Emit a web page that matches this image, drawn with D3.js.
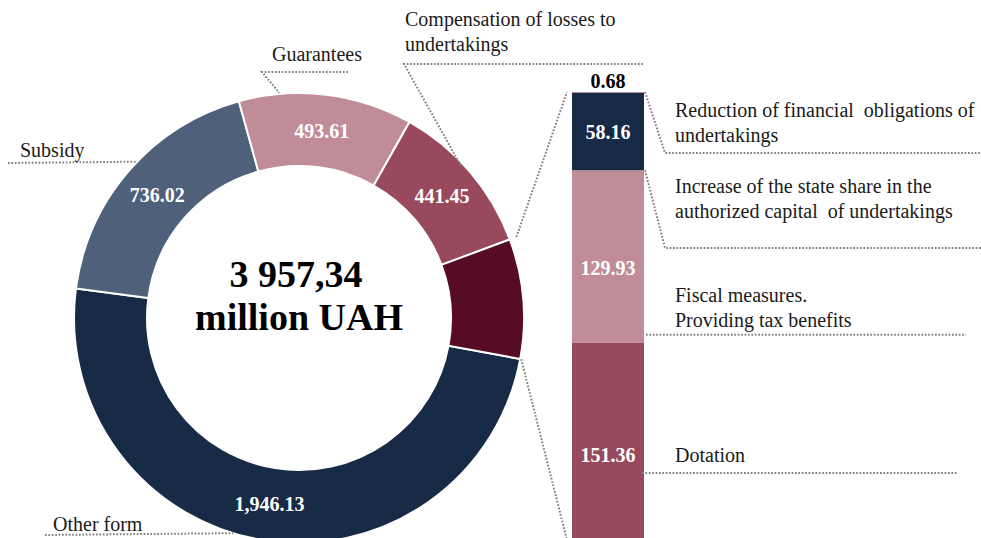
<!DOCTYPE html>
<html>
<head>
<meta charset="utf-8">
<script src="https://cdn.jsdelivr.net/npm/d3@7"></script>
<style>
  body { margin: 0; background: #fff; }
  svg text { font-family: "Liberation Serif", "Times New Roman", serif; }
</style>
</head>
<body>
<div id="chart"></div>
<script>
// donut data (clockwise, starting with "Other form")
const forms = ["Other form", "Subsidy", "Guarantees", "Compensation of losses to undertakings", "Other measures"];
const formValues = [1946.13, 736.02, 493.61, 441.45, 340.13];
const formColors = ["#172a46", "#4f607a", "#c08c98", "#984a5c", "#560b26"];
const formLabels = ["1,946.13", "736.02", "493.61", "441.45", ""];

// breakdown of the exploded segment (bottom to top)
const measures = ["Dotation", "Fiscal measures", "Increase of the state share", "Reduction of financial obligations"];
const measureValues = [151.36, 129.93, 58.16, 0.68];
const measureColors = ["#984a5c", "#c08c98", "#172a46", "#c08c98"];

const totalText = ["3 957,34", "million UAH"];

const width = 981, height = 538;
const cx = 299, cy = 318, rOuter = 225, rInner = 152;
const startDeg = 100.5;

const svg = d3.select("#chart").append("svg")
    .attr("width", width)
    .attr("height", height);

const rad = d => d * Math.PI / 180;
const polar = (deg, r) => [cx + r * Math.sin(rad(deg)), cy - r * Math.cos(rad(deg))];

const pie = d3.pie().sort(null)
    .startAngle(rad(startDeg))
    .endAngle(rad(startDeg) + 2 * Math.PI);
const arcs = pie(formValues);

const arc = d3.arc().innerRadius(rInner).outerRadius(rOuter);
const labelArc = d3.arc().innerRadius(188).outerRadius(188);

const donut = svg.append("g").attr("transform", `translate(${cx},${cy})`);

donut.selectAll("path")
    .data(arcs)
    .enter().append("path")
    .attr("d", arc)
    .attr("fill", (d, i) => formColors[i])
    .attr("stroke", "#fff")
    .attr("stroke-width", 2);

donut.selectAll("text.val")
    .data(arcs)
    .enter().append("text")
    .attr("class", "val")
    .attr("transform", d => `translate(${labelArc.centroid(d)})`)
    .attr("text-anchor", "middle")
    .attr("dy", "0.35em")
    .style("font-size", "20px")
    .style("font-weight", "bold")
    .style("fill", "#fff")
    .text((d, i) => formLabels[i]);

// total in the middle
svg.append("text")
    .attr("x", cx - 3).attr("y", 287)
    .attr("text-anchor", "middle")
    .style("font-size", "38px").style("font-weight", "bold")
    .text(totalText[0]);
svg.append("text")
    .attr("x", cx).attr("y", 330)
    .attr("text-anchor", "middle")
    .style("font-size", "38px").style("font-weight", "bold")
    .text(totalText[1]);

// stacked bar
const barX = 572, barW = 72;
const yScale = d3.scaleLinear()
    .domain([0, d3.sum(measureValues)])
    .range([544, 92]);

const stackRow = {};
measures.forEach((m, i) => stackRow[m] = measureValues[i]);
const series = d3.stack().keys(measures)([stackRow]);

const bar = svg.append("g");
bar.selectAll("rect")
    .data(series)
    .enter().append("rect")
    .attr("x", barX)
    .attr("width", barW)
    .attr("y", d => yScale(d[0][1]))
    .attr("height", d => Math.max(1, yScale(d[0][0]) - yScale(d[0][1])))
    .attr("fill", (d, i) => measureColors[i]);

const barLabelDy = [12, 11, 0];
bar.selectAll("text.val")
    .data(series.slice(0, 3))
    .enter().append("text")
    .attr("class", "val")
    .attr("x", barX + barW / 2)
    .attr("y", (d, i) => (yScale(d[0][0]) + yScale(d[0][1])) / 2 + barLabelDy[i])
    .attr("dy", "0.35em")
    .attr("text-anchor", "middle")
    .style("font-size", "20px").style("font-weight", "bold")
    .style("fill", "#fff")
    .text(d => d3.format(".2f")(d[0][1] - d[0][0]));

bar.append("text")
    .attr("x", barX + barW / 2)
    .attr("y", yScale(d3.sum(measureValues)) - 4)
    .attr("text-anchor", "middle")
    .style("font-size", "20px").style("font-weight", "bold")
    .text(d3.format(".2f")(measureValues[3]));

// dotted leader lines
const line = d3.line();
function dotted(pts) {
    svg.append("path")
        .attr("d", line(pts))
        .attr("fill", "none")
        .attr("stroke", "#808080")
        .attr("stroke-width", 2)
        .attr("stroke-dasharray", "1.7 1.7");
}

// connectors from the dark segment to the bar
const dark = arcs[4];
const darkStart = dark.startAngle * 180 / Math.PI;
const darkEnd = dark.endAngle * 180 / Math.PI;
dotted([polar(darkStart, 232), [barX - 5, yScale(d3.sum(measureValues))]]);
dotted([polar(darkEnd, 226), [barX - 4, yScale(0)]]);

// donut category labels
const donutNotes = [
    {lines: ["Other form"], x: 53, y: 531, size: 20, path: [[45, 535], polar(197, 225)]},
    {lines: ["Subsidy"], x: 20, y: 157, size: 20, path: [[8, 163], polar(314, 225)]},
    {lines: ["Guarantees"], x: 272, y: 61, size: 20, path: [[348, 72], [262, 72], polar(355, 226)]},
    {lines: ["Compensation of losses to", "undertakings"], x: 405, y: 26, size: 20,
     path: [[643, 64], [404, 64], polar(47, 222)]}
];

donutNotes.forEach(n => {
    dotted(n.path);
    n.lines.forEach((t, k) => {
        svg.append("text")
            .attr("x", n.x).attr("y", n.y + k * 25)
            .style("font-size", n.size + "px")
            .style("fill", "#1a1a1a")
            .text(t);
    });
});

// bar category labels
const barTop = yScale(d3.sum(measureValues));
const b1 = yScale(measureValues[0] + measureValues[1]);
const b0 = yScale(measureValues[0]);
const barNotes = [
    {lines: ["Reduction of financial\u00a0 obligations of", "undertakings"], y: 117,
     path: [[barX + barW + 1, barTop], [665, 153], [981, 153]]},
    {lines: ["Increase of the state share in the", "authorized capital\u00a0 of undertakings"], y: 193,
     path: [[barX + barW + 1, b1], [665, 248], [981, 248]]},
    {lines: ["Fiscal measures.", "Providing tax benefits"], y: 302,
     path: [[barX + barW + 2, b0 - 8], [966, b0 - 8]]},
    {lines: ["Dotation"], y: 462,
     path: [[barX + barW - 2, 473], [958, 473]]}
];

barNotes.forEach(n => {
    dotted(n.path);
    n.lines.forEach((t, k) => {
        svg.append("text")
            .attr("x", 675).attr("y", n.y + k * 25)
            .style("font-size", "20px")
            .style("fill", "#1a1a1a")
            .text(t);
    });
});
</script>
</body>
</html>
